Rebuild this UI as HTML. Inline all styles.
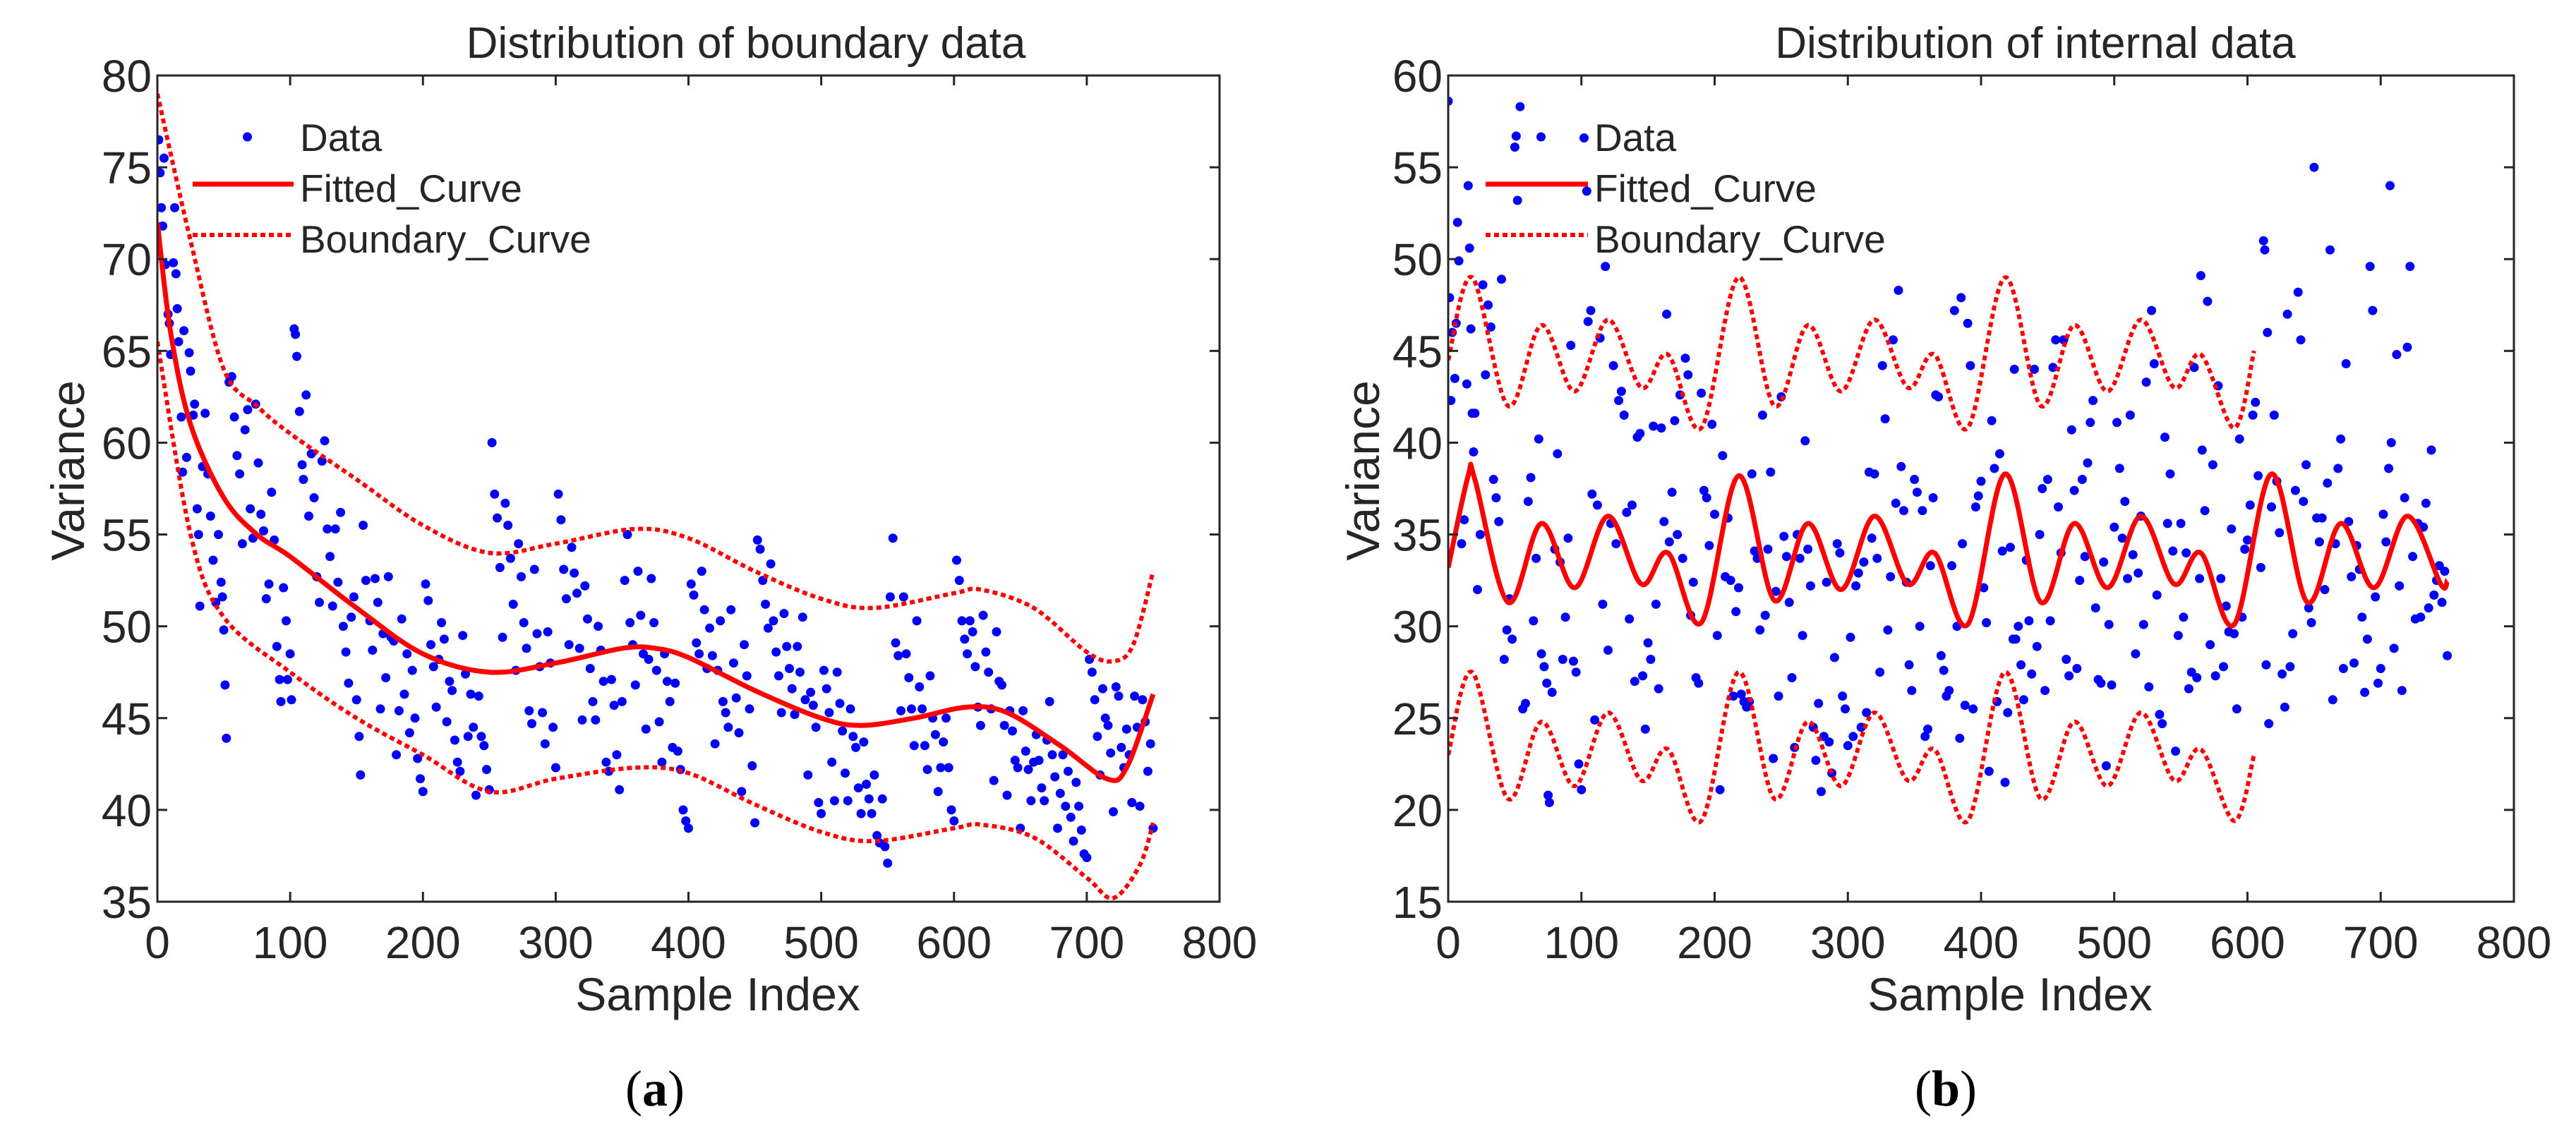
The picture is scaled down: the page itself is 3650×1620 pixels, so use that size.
<!DOCTYPE html>
<html><head><meta charset="utf-8"><style>
html,body{margin:0;padding:0;background:#fff;}
svg text{font-family:"Liberation Sans",Arial,sans-serif;fill:#262626;}
</style></head><body>
<svg id="fig" width="3650" height="1615" viewBox="0 0 3650 1615" xmlns="http://www.w3.org/2000/svg">
<rect width="3650" height="1615" fill="#fff"/>
<g id="pa"></g>
<g id="pb"></g>
</svg>
<script>
// ---- Panel (a) data ----
const aScatter=[[1,76.5],[2,74.7],[3,72.8],[4,71.8],[5,75.5],[6,69.7],[8,67],[9,66.5],[10,64.8],[12,69.8],[13,72.8],[14,69.2],[15,67.3],[16,65.5],[18,61.4],[19,58.4],[20,66.1],[22,59.2],[24,64.9],[25,63.9],[27,61.5],[28,62.1],[30,56.4],[31,55],[32,51.1],[34,58.7],[36,61.6],[38,58.3],[40,56],[42,53.6],[44,51.3],[46,55],[48,52.4],[49,51.6],[50,49.8],[51,46.8],[52,43.9],[54,63.3],[56,63.6],[58,61.4],[60,59.3],[62,58.3],[64,54.5],[66,60.7],[68,61.8],[70,56.4],[72,54.8],[74,62.1],[76,58.9],[78,56.1],[80,55.2],[82,51.5],[84,52.3],[86,57.3],[88,54.7],[90,48.9],[92,47.1],[93,45.9],[95,52.1],[97,50.3],[98,47.1],[100,48.5],[101,46],[103,66.2],[104,65.9],[105,64.7],[107,61.7],[109,58.8],[110,58],[112,62.6],[114,56],[116,59.4],[118,57],[120,52.7],[122,51.3],[124,59],[126,60.1],[128,55.3],[130,53.8],[132,51.1],[134,55.3],[136,52.4],[138,56.2],[140,50],[142,48.6],[144,46.9],[146,50.5],[148,51.6],[150,46],[152,44],[153,41.9],[155,55.5],[157,52.5],[160,50.3],[162,48.7],[164,52.6],[166,51.3],[168,45.5],[170,49.6],[172,47.2],[174,52.7],[176,49.4],[178,49.2],[180,43],[182,45.4],[184,50.4],[186,46.3],[188,48.5],[190,44.2],[192,47.6],[194,45],[196,42.8],[198,41.7],[200,41],[202,52.3],[204,51.4],[206,49],[208,47.8],[210,45.6],[212,48.2],[214,50.2],[216,49.3],[218,44.8],[220,47],[222,46.5],[224,43.8],[226,42.6],[228,42.1],[230,49.5],[232,47.4],[234,44],[236,46.3],[238,44.5],[240,40.8],[242,46.2],[244,44],[246,43.5],[248,42.2],[250,41.1],[252,60],[254,57.2],[256,55.9],[258,53.2],[260,49.4],[262,56.7],[264,55.5],[266,53.7],[268,51.2],[270,47.6],[272,54.5],[274,52.7],[276,50.2],[278,48.8],[280,45.4],[282,44.7],[284,53.1],[286,49.6],[288,47.8],[290,45.3],[292,43.6],[294,49.7],[296,48],[298,44.5],[300,42.3],[302,57.2],[304,55.8],[306,53.1],[308,51.5],[310,49],[312,54.3],[314,52.9],[316,51.8],[318,48.8],[320,44.9],[322,52.2],[324,50.4],[326,47.7],[328,45.9],[330,44.9],[332,50],[334,48.7],[336,47],[338,42.6],[340,42.1],[342,47.1],[344,45.7],[346,43],[348,41.1],[350,45.9],[352,52.5],[354,55],[356,50.2],[358,49],[360,46.8],[362,53],[364,50.6],[366,48.5],[368,44.4],[370,48.2],[372,52.6],[374,50.2],[376,47.6],[378,44.8],[380,42.6],[382,48.5],[384,47],[386,45.9],[388,43.4],[390,46.9],[392,43.2],[394,42.2],[396,40],[398,39.4],[400,39],[402,52.3],[404,51.7],[406,49.1],[408,48.5],[410,53],[412,50.9],[414,47.7],[416,49.9],[418,48.4],[420,43.6],[422,47.6],[424,50.3],[426,45.9],[428,45.3],[430,44.5],[432,50.9],[434,48],[436,46.1],[438,44.2],[440,41],[442,49],[444,47.3],[446,45.5],[448,42.4],[450,39.3],[452,54.7],[454,54.2],[456,52.5],[458,51.2],[460,49.9],[462,53.4],[464,50.3],[466,48.6],[468,47.3],[470,45.3],[472,50.7],[474,48.9],[476,47.7],[478,46.6],[480,45.2],[482,48.9],[484,47.5],[486,50.5],[488,46],[490,41.9],[492,46.4],[494,45.7],[496,44.5],[498,40.4],[500,39.8],[502,47.6],[504,46.6],[506,45.3],[508,42.6],[510,40.5],[512,47.5],[514,45.8],[516,44.3],[518,42],[520,40.5],[522,45.5],[524,44],[526,43.4],[528,41.2],[530,39.8],[532,43.7],[534,41.4],[536,40.6],[538,39.8],[540,41.9],[542,38.6],[544,38.2],[546,40.6],[548,38],[550,37.1],[552,51.6],[554,54.8],[556,49.1],[558,48.4],[560,45.4],[562,51.6],[564,48.5],[566,47.2],[568,45.5],[570,43.5],[572,50.3],[574,46.7],[576,45.5],[578,43.5],[580,42.2],[582,47.3],[584,45],[586,44.1],[588,41],[590,42.3],[592,43.7],[594,45],[596,42.3],[598,40],[600,39.4],[602,53.6],[604,52.5],[606,50.3],[608,49.3],[610,48.5],[612,50.3],[614,49.7],[616,47.8],[618,45.6],[620,44.6],[622,50.6],[624,48.6],[626,47.5],[628,45.5],[630,41.6],[632,49.7],[634,47],[636,46.8],[638,44.6],[640,40.8],[642,45.4],[644,44.3],[646,42.7],[648,42.3],[650,39],[652,45.4],[654,43.2],[656,42.2],[658,40.5],[660,42.6],[662,44.1],[664,42.7],[666,41.2],[668,40.5],[670,43.8],[672,45.9],[674,43],[676,41.8],[678,39],[680,40.9],[682,43],[684,40.2],[686,42.1],[688,39.6],[690,38.3],[692,41.5],[694,40.2],[696,38.9],[698,37.6],[700,37.4],[702,48.2],[704,47.5],[706,46],[708,44],[710,41.9],[712,46.6],[714,45],[716,44.6],[718,43.1],[720,39.9],[722,46.7],[724,46.2],[726,43.4],[728,42.3],[730,44.4],[732,43],[734,40.4],[736,46.2],[738,44.5],[740,40.2],[742,46],[744,44.8],[746,42.1],[748,43.6],[750,39]];
const aFitX=[0,10,25,50,75,100,150,200,250,300,350,375,400,450,500,530,570,610,640,680,715,730,750];
const aFitY=[72,66,61,57,55,53.8,51,48.5,47.5,48,48.8,48.8,48.3,46.5,45,44.6,45,45.6,45.3,43.5,41.7,42.3,46.3];
const aUpX=[0,25,50,75,100,150,200,250,300,360,400,450,500,540,600,620,660,700,720,735,750];
const aUpY=[79,71,64,62,60.5,58,55.5,54,54.5,55.3,54.8,53,51.5,51,51.8,52,51,48.6,48.1,49,53];
const aLoX=[0,25,50,100,150,200,250,300,360,400,450,500,540,600,620,660,700,720,740,750];
const aLoY=[65.5,55,50.5,47.5,45,43,41,41.7,42.3,42,40.3,38.8,38.3,39,39.2,38.5,36.3,35.2,37,39.3];
const aYTicks=[35,40,45,50,55,60,65,70,75,80];
const xTicks=[0,100,200,300,400,500,600,700,800];
// ---- Panel (b) data ----
const bScatter=[[0,58.6],[1,47.9],[2,42.3],[3,46],[5,43.5],[6,46.5],[7,52],[8,49.9],[10,34.5],[12,35.8],[14,43.2],[15,54],[16,50.6],[17,46.2],[18,41.6],[19,39.5],[20,41.6],[22,32],[24,35],[26,48.6],[28,43.7],[30,47.5],[32,46.3],[34,38],[36,37],[38,35.7],[40,48.9],[42,28.2],[44,29.8],[46,31.5],[48,29.3],[50,56.1],[51,56.7],[52,53.2],[54,58.3],[56,25.5],[58,25.8],[60,36.8],[62,38.1],[64,30.3],[66,33.7],[68,40.2],[70,28.5],[72,27.8],[74,26.9],[75,20.8],[76,20.4],[78,26.4],[80,34.2],[82,39.4],[84,33.5],[86,28.2],[88,30.5],[90,34.8],[92,45.3],[94,28.1],[96,27.5],[98,22.5],[100,21.1],[102,56.6],[104,53.7],[105,46.6],[107,47.2],[108,37.2],[110,24.9],[112,36.6],[114,45.7],[116,31.2],[118,49.6],[120,28.7],[122,35.6],[124,44.2],[126,34.5],[128,42.3],[130,42.8],[132,41.5],[134,36.2],[136,30.4],[138,36.6],[140,27],[142,40.3],[144,40.5],[146,27.3],[148,24.4],[150,29.1],[152,28.2],[154,40.9],[156,31.2],[158,26.6],[160,40.8],[162,35.7],[164,47],[166,34.6],[168,37.3],[170,41.2],[172,35],[174,42.6],[176,33.7],[178,44.6],[180,43.7],[182,30.6],[184,32.4],[186,27.2],[188,26.9],[190,42.7],[192,37.4],[194,37],[196,34.4],[198,41],[200,36.1],[202,29.5],[204,21.1],[206,39.3],[208,32.7],[210,35.9],[212,32.5],[214,26.2],[216,30.8],[218,32.1],[220,26.3],[222,25.9],[224,25.6],[226,25.9],[228,38.3],[230,34.1],[232,33.7],[234,29.8],[236,41.5],[238,30.6],[240,34.2],[242,38.4],[244,22.8],[246,31.9],[248,26.2],[250,42.5],[252,34.9],[254,33.8],[256,31.3],[258,27.2],[260,23.4],[262,35],[264,33.7],[266,29.5],[268,40.1],[270,34.2],[272,32.2],[274,24.5],[276,22.7],[278,25.8],[280,21],[282,24],[284,32.4],[286,23.7],[288,22],[290,28.3],[292,34.5],[294,34],[296,26.2],[298,25.5],[300,23.5],[302,29.4],[304,24],[306,32.2],[308,32.9],[310,24.5],[312,33.5],[314,25.3],[316,38.4],[318,34.8],[320,38.3],[322,33.7],[324,27.5],[326,44.2],[328,41.3],[330,29.8],[332,32.7],[334,45.6],[336,36.7],[338,48.3],[340,38.7],[342,36.3],[344,32.4],[346,27.9],[348,26.5],[350,38],[352,37.3],[354,30],[356,36.3],[358,24],[360,24.4],[362,33.3],[364,37],[366,42.6],[368,42.5],[370,28.4],[372,27.6],[374,26.2],[376,26.5],[378,33.3],[380,47.2],[382,30],[384,23.9],[385,47.9],[386,34.5],[388,25.7],[390,46.5],[392,44.2],[394,25.5],[396,36.5],[398,37.1],[400,37.9],[402,32.1],[404,30.2],[406,22.1],[408,41.2],[410,38.6],[412,25.9],[414,39.4],[416,34.1],[418,21.5],[420,25.3],[422,34.3],[424,29.3],[425,44],[426,29.3],[428,30],[430,27.9],[432,26],[434,33.6],[436,30.3],[438,27.4],[440,44],[442,28.9],[444,35],[446,37.5],[448,26.5],[450,38],[452,30.3],[454,44.1],[456,45.6],[458,36.5],[460,34],[462,45.6],[464,28.2],[466,27.3],[468,40.7],[470,37.4],[472,27.7],[474,32.5],[476,38],[478,33.8],[480,38.9],[482,41.1],[484,42.3],[486,31],[488,27.1],[490,26.9],[492,33.5],[494,22.4],[496,30.1],[498,26.8],[500,35.4],[502,41.1],[504,38.6],[506,34.8],[508,36.8],[510,32.6],[512,41.5],[514,33.9],[516,28.5],[518,32.9],[520,36],[522,30.1],[524,43.3],[526,26.7],[528,47.2],[530,44.3],[532,31.7],[534,25.2],[536,24.7],[538,40.3],[540,35.6],[542,38.3],[544,34.1],[546,23.2],[548,29.5],[550,35.6],[552,30.5],[554,34],[556,26.6],[558,27.5],[560,44.1],[562,27.2],[564,32.6],[565,49.1],[566,39.6],[568,36.3],[570,47.7],[572,29],[574,38.8],[576,27.3],[578,43.1],[580,32.6],[582,27.8],[584,31.1],[586,29.7],[588,35.3],[590,29.6],[592,25.5],[594,40.2],[596,30.5],[598,34.2],[600,34.7],[602,36.6],[604,41.5],[606,42.2],[608,38.2],[610,33.2],[612,51],[613,50.5],[614,27.9],[615,46],[616,24.7],[618,36.5],[620,41.5],[622,37.9],[624,35.1],[626,27.4],[628,25.6],[630,47],[632,27.8],[634,29.6],[636,37.4],[638,48.2],[640,45.6],[642,36.8],[644,38.8],[646,31],[648,30.2],[650,55],[652,35.9],[654,34.6],[656,35.9],[658,32],[660,37.8],[662,50.5],[664,26],[666,34.5],[668,38.6],[670,40.2],[672,27.7],[674,44.3],[676,35.7],[678,32.7],[680,28],[682,34.4],[684,33.1],[686,30.5],[688,26.4],[690,29.3],[692,49.6],[694,47.2],[696,31.6],[698,26.9],[700,27.7],[702,36.1],[704,34.6],[706,38.6],[707,54],[708,40],[710,28.8],[712,44.8],[714,32.2],[716,26.5],[718,37],[720,45.2],[722,49.6],[724,33.8],[726,30.4],[728,35.6],[730,30.5],[732,35.4],[734,36.7],[736,31],[738,39.6],[740,31.7],[742,32.5],[744,33.3],[746,31.3],[748,33],[750,28.4]];
const bFitX=[0,15,20,45,70,95,120,145,165,190,218,245,270,295,320,345,365,390,418,445,470,495,520,545,565,590,618,645,670,695,720,745,750];
const bFitY=[33.2,38.2,38,31.3,35.6,32.1,36,32.3,34,30.2,38.2,31.4,35.6,32,36,32.3,34,30.1,38.3,31.3,35.6,32.1,36,32.3,34,30.1,38.3,31.3,35.6,32.1,36,32.3,32.5];
const bUpX=[0,18,45,70,95,120,145,165,190,218,245,270,295,320,345,365,390,418,445,470,495,520,545,565,590,605];
const bUpY=[44.5,49,42,46.4,42.8,46.7,43,44.8,40.8,49,42,46.4,42.8,46.7,43,44.8,40.8,49,42,46.4,42.8,46.7,43,44.8,40.8,45];
const bLoX=bUpX;
const bLoY=[23,27.5,20.6,24.8,21.3,25.3,21.6,23.3,19.4,27.5,20.6,24.8,21.3,25.3,21.6,23.3,19.4,27.5,20.6,24.8,21.3,25.3,21.6,23.3,19.4,23];
const bYTicks=[15,20,25,30,35,40,45,50,55,60];

const NS='http://www.w3.org/2000/svg';
function mk(parent,tag,attrs,text){const e=document.createElementNS(NS,tag);for(const k in attrs)e.setAttribute(k,attrs[k]);if(text!==undefined)e.textContent=text;parent.appendChild(e);return e;}
function smooth(pts){let d='M'+pts[0][0].toFixed(1)+','+pts[0][1].toFixed(1);
 for(let i=0;i<pts.length-1;i++){const p0=pts[Math.max(0,i-1)],p1=pts[i],p2=pts[i+1],p3=pts[Math.min(pts.length-1,i+2)];
  const c1=[p1[0]+(p2[0]-p0[0])/6,p1[1]+(p2[1]-p0[1])/6],c2=[p2[0]-(p3[0]-p1[0])/6,p2[1]-(p3[1]-p1[1])/6];
  d+='C'+c1[0].toFixed(1)+','+c1[1].toFixed(1)+' '+c2[0].toFixed(1)+','+c2[1].toFixed(1)+' '+p2[0].toFixed(1)+','+p2[1].toFixed(1);}
 return d;}
function panel(g,cfg){
 const L=cfg.left,R=cfg.right,T=107,B=1278;
 const yMin=cfg.yTicks[0],yMax=cfg.yTicks[cfg.yTicks.length-1];
 const sx=v=>L+(v-0)/(800-0)*(R-L);
 const sy=v=>B-(v-yMin)/(yMax-yMin)*(B-T);
 const clip='clip'+cfg.id;
 const cp=mk(g,'clipPath',{id:clip});mk(cp,'rect',{x:L,y:T,width:R-L,height:B-T});
 const pg=mk(g,'g',{'clip-path':'url(#'+clip+')'});
 
 
 const sg=mk(pg,'g',{fill:'#0000ff'});
 
 
 cfg.scatter.forEach(p=>{const c=mk(sg,'circle',{cx:sx(p[0]).toFixed(1),cy:sy(p[1]).toFixed(1),r:6.5});
  
  });
 const up=mk(pg,'path',{d:smooth(cfg.upX.map((x,i)=>[sx(x),sy(cfg.upY[i])])),fill:'none',stroke:'#ff0000','stroke-width':6,'stroke-dasharray':'7 5'});
 
 
 const lo=mk(pg,'path',{d:smooth(cfg.loX.map((x,i)=>[sx(x),sy(cfg.loY[i])])),fill:'none',stroke:'#ff0000','stroke-width':6,'stroke-dasharray':'7 5'});
 
 
 const fit=mk(pg,'path',{d:smooth(cfg.fitX.map((x,i)=>[sx(x),sy(cfg.fitY[i])])),fill:'none',stroke:'#ff0000','stroke-width':7});
 
 
 const box=mk(g,'rect',{x:L,y:T,width:R-L,height:B-T,fill:'none',stroke:'#262626','stroke-width':3});
 
 
 xTicks.forEach(t=>{const x=sx(t);
  mk(g,'line',{x1:x,y1:B,x2:x,y2:B-14,stroke:'#262626','stroke-width':3});
  mk(g,'line',{x1:x,y1:T,x2:x,y2:T+14,stroke:'#262626','stroke-width':3});
  const tl=mk(g,'text',{x:x,y:1358,'font-size':64,'text-anchor':'middle'},String(t));
  
  });
 cfg.yTicks.forEach(t=>{const y=sy(t);
  mk(g,'line',{x1:L,y1:y,x2:L+14,y2:y,stroke:'#262626','stroke-width':3});
  mk(g,'line',{x1:R,y1:y,x2:R-14,y2:y,stroke:'#262626','stroke-width':3});
  const tl=mk(g,'text',{x:L-8,y:y+23,'font-size':64,'text-anchor':'end'},String(t));
  
  });
 const ti=mk(g,'text',{x:cfg.titleX,y:82,'font-size':62,'text-anchor':'middle'},cfg.title);
 
 
 const xt=mk(g,'text',{x:cfg.xlabX,y:1432,'font-size':66,'text-anchor':'middle'},'Sample Index');
 
 
 const yt=mk(g,'text',{x:0,y:0,'font-size':66,'text-anchor':'middle',transform:'translate('+(cfg.ylabX+24)+',667) rotate(-90)'},'Variance');
 
 
 const cap=mk(g,'text',{x:cfg.capX,y:1567,'font-size':72,'text-anchor':'middle',style:'font-family:"Liberation Serif",serif;fill:#000'});
 
 
 mk(cap,'tspan',{},'(');mk(cap,'tspan',{'font-weight':'bold'},cfg.cap);mk(cap,'tspan',{},')');
 const lg=mk(g,'g',{});
 
 
 const l1=cfg.legL,l2=cfg.legR;
 mk(lg,'circle',{cx:(l1+l2)/2+6,cy:194,r:6.5,fill:'#0000ff'});
 mk(lg,'line',{x1:l1,y1:261,x2:l2,y2:261,stroke:'#ff0000','stroke-width':7});
 mk(lg,'line',{x1:l1,y1:333,x2:l2,y2:333,stroke:'#ff0000','stroke-width':6,'stroke-dasharray':'7 5'});
 [['Data',214],['Fitted_Curve',286],['Boundary_Curve',358]].forEach(r=>{
  const t=mk(lg,'text',{x:l2+9,y:r[1],'font-size':55},r[0]);
  
  });
}
panel(document.getElementById('pa'),{id:'a',left:223,right:1728,yTicks:aYTicks,scatter:aScatter,fitX:aFitX,fitY:aFitY,upX:aUpX,upY:aUpY,loX:aLoX,loY:aLoY,title:'Distribution of boundary data',titleX:1057,xlabX:1017,ylabX:95,capX:928,cap:'a',legL:273,legR:416});
panel(document.getElementById('pb'),{id:'b',left:2052,right:3562,yTicks:bYTicks,scatter:bScatter,fitX:bFitX,fitY:bFitY,upX:bUpX,upY:bUpY,loX:bLoX,loY:bLoY,title:'Distribution of internal data',titleX:2884,xlabX:2848,ylabX:1930,capX:2757,cap:'b',legL:2105,legR:2250});
</script>
</body></html>
